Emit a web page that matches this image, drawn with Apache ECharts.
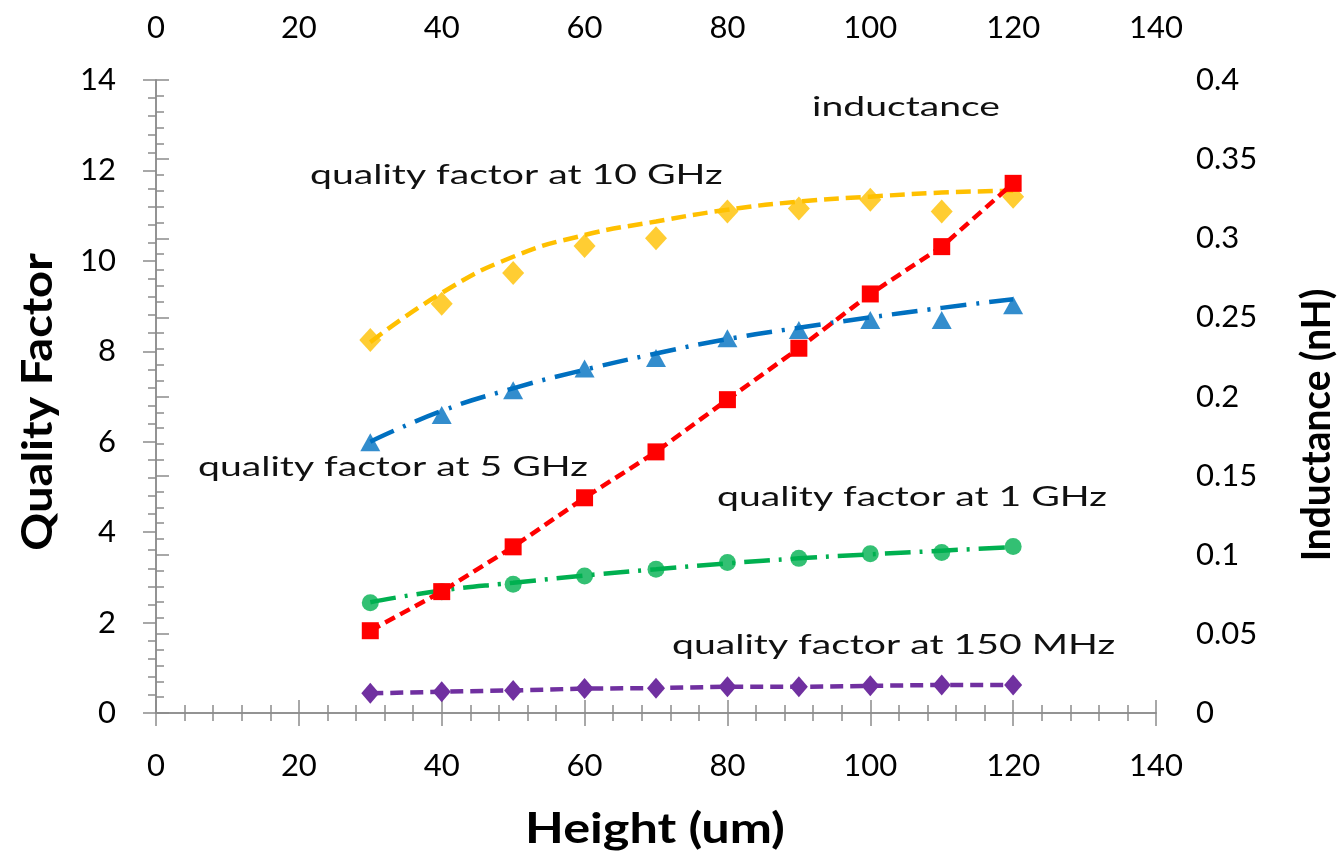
<!DOCTYPE html>
<html>
<head>
<meta charset="utf-8">
<script src="https://cdn.jsdelivr.net/npm/echarts@6/dist/echarts.min.js"></script>
<style>
html,body{margin:0;padding:0;background:#fff;}
#c{width:1343px;height:854px;}
</style>
</head>
<body>
<div id="c"></div>
<script>
// ---- data ----
var heights = [30, 40, 50, 60, 70, 80, 90, 100, 110, 120];
var q10GHz = [8.25, 9.05, 9.73, 10.33, 10.5, 11.09, 11.16, 11.35, 11.09, 11.42];
var q10GHzTrend = [8.2, 9.29, 10.09, 10.57, 10.87, 11.13, 11.31, 11.42, 11.51, 11.55];
var q5GHz = [5.99, 6.59, 7.14, 7.62, 7.85, 8.29, 8.47, 8.69, 8.69, 9.02];
var q5GHzTrend = [6.0, 6.68, 7.18, 7.59, 7.95, 8.27, 8.52, 8.75, 8.96, 9.15];
var q1GHz = [2.44, 2.68, 2.85, 3.03, 3.18, 3.33, 3.42, 3.52, 3.55, 3.68];
var q1GHzTrend = [2.45, 2.71, 2.88, 3.04, 3.18, 3.31, 3.42, 3.51, 3.59, 3.67];
var q150MHz = [0.435, 0.47, 0.5, 0.54, 0.55, 0.58, 0.58, 0.6, 0.62, 0.62];
var inductance = [0.052, 0.0767, 0.105, 0.136, 0.165, 0.198, 0.2305, 0.2648, 0.2947, 0.3347];
var xTicks = {min: 0, max: 140, interval: 20};
var qTicks = {min: 0, max: 14, interval: 2};
var lTicks = {min: 0, max: 0.4, interval: 0.05};
var annotations = ['inductance', 'quality factor at 10 GHz', 'quality factor at 5 GHz',
                   'quality factor at 1 GHz', 'quality factor at 150 MHz'];
var xTitle = 'Height (um)';
var yLeftTitle = 'Quality Factor';
var yRightTitle = 'Inductance (nH)';

function pairs(ys) { return heights.map(function (h, i) { return [h, ys[i]]; }); }

var FONT = 'Lato';
var axisCol = '#8c8c8c';

function xAxisCfg(pos) {
  return {
    type: 'value', position: pos, min: xTicks.min, max: xTicks.max, interval: xTicks.interval,
    axisLine: {show: true, lineStyle: {color: axisCol, width: 1.5}},
    axisTick: {show: true, inside: false, length: 13, lineStyle: {color: axisCol, width: 1.5}},
    minorTick: {show: true, splitNumber: 5, length: 8, lineStyle: {color: axisCol, width: 1.5}},
    splitLine: {show: false},
    axisLabel: {color: '#000', fontFamily: FONT, fontSize: 31, margin: 37}
  };
}
function yAxisCfg(pos, t) {
  return {
    type: 'value', position: pos, min: t.min, max: t.max, interval: t.interval,
    axisLine: {show: true, lineStyle: {color: axisCol, width: 1.5}},
    axisTick: {show: true, inside: false, length: 13, lineStyle: {color: axisCol, width: 1.5}},
    minorTick: {show: true, splitNumber: 5, length: 8, lineStyle: {color: axisCol, width: 1.5}},
    splitLine: {show: false},
    axisLabel: {color: '#000', fontFamily: FONT, fontSize: 31, margin: 40}
  };
}

function note(txt, x, y) {
  return {type: 'text', x: x, y: y, scaleX: 1.45,
    style: {text: txt, fill: '#111', fontFamily: FONT, fontSize: 27, align: 'left', verticalAlign: 'middle'}};
}
function title(txt, x, y, rot, size, sx) {
  return {type: 'text', x: x, y: y, rotation: rot, scaleX: sx,
    style: {text: txt, fill: '#000', fontFamily: FONT, fontWeight: 'bold', fontSize: size, align: 'center', verticalAlign: 'middle'}};
}

var chart = echarts.init(document.getElementById('c'), null, {renderer: 'canvas'});
chart.setOption({
  animation: false,
  backgroundColor: '#fff',
  grid: {left: 156, right: 187, top: 80, bottom: 141, containLabel: false},
  xAxis: [xAxisCfg('bottom'), xAxisCfg('top')],
  yAxis: [yAxisCfg('left', qTicks), yAxisCfg('right', lTicks)],
  series: [
    {type: 'line', name: '150 MHz', data: pairs(q150MHz), yAxisIndex: 0,
     symbol: 'diamond', symbolSize: [18, 21], itemStyle: {color: '#7030A0'},
     lineStyle: {color: '#7030A0', width: 4.5, type: [13, 7]}, z: 2},
    {type: 'line', name: '1 GHz trend', data: pairs(q1GHzTrend), yAxisIndex: 0, smooth: true,
     symbol: 'none', lineStyle: {color: '#00B050', width: 4.5, type: [26, 9, 3, 9]}, z: 2},
    {type: 'scatter', name: '1 GHz', data: pairs(q1GHz), yAxisIndex: 0,
     symbol: 'circle', symbolSize: 17, itemStyle: {color: '#00B050'}, z: 3},
    {type: 'line', name: '5 GHz trend', data: pairs(q5GHzTrend), yAxisIndex: 0, smooth: true,
     symbol: 'none', lineStyle: {color: '#0070C0', width: 4.5, type: [26, 10, 3, 10]}, z: 2},
    {type: 'scatter', name: '5 GHz', data: pairs(q5GHz), yAxisIndex: 0,
     symbol: 'triangle', symbolSize: [20, 18], itemStyle: {color: '#0070C0'}, z: 3},
    {type: 'line', name: '10 GHz trend', data: pairs(q10GHzTrend), yAxisIndex: 0, smooth: true,
     symbol: 'none', lineStyle: {color: '#FFC000', width: 4.5, type: [15, 7]}, z: 2},
    {type: 'scatter', name: '10 GHz', data: pairs(q10GHz), yAxisIndex: 0,
     symbol: 'diamond', symbolSize: [22, 24], itemStyle: {color: '#FFC000'}, z: 3},
    {type: 'line', name: 'inductance', data: pairs(inductance), yAxisIndex: 1,
     symbol: 'rect', symbolSize: 17, itemStyle: {color: '#FF0000'},
     lineStyle: {color: '#FF0000', width: 4.5, type: [11, 6]}, z: 5}
  ],
  graphic: [
    note(annotations[0], 812, 107),
    note(annotations[1], 310, 175),
    note(annotations[2], 198, 467),
    note(annotations[3], 717, 497),
    note(annotations[4], 672, 645),
    title(xTitle, 655, 829, 0, 42, 1.2),
    title(yLeftTitle, 38, 402, Math.PI / 2, 42, 1.12),
    title(yRightTitle, 1317, 425, Math.PI / 2, 40, 0.97)
  ]
});
</script>
</body>
</html>
